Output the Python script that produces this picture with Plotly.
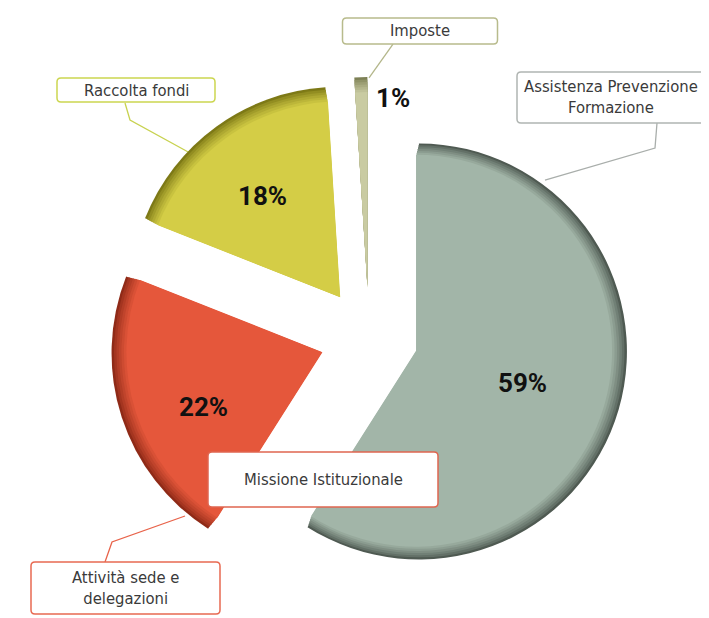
import plotly.graph_objects as go

# ---- data ----
labels = ["Assistenza Prevenzione Formazione", "Attività sede e delegazioni", "Raccolta fondi", "Imposte"]
values = [59, 22, 18, 1]
base_colors = ["#a2b5a8", "#e5573b", "#d4cd46", "#c9cba2"]
rim_colors = ["#4f5a52", "#8f2a17", "#7d7916", "#7d8055"]
pct_text = [f"{v}%" for v in values]

# page body has an 8px margin -> shift everything by that amount
OFF = 8
W, H = 709 - OFF, 618 - OFF
CX, CY = 369, 337
PULL = 0.25


def px(x):
    return (x - OFF) / W


def py(y):
    return (H - (y - OFF)) / H


def domain(r):
    h = r * (1 + PULL)
    return dict(x=[px(CX - h), px(CX + h)], y=[py(CY + h), py(CY - h)])


def mix(c1, c2, t):
    a = [int(c1[i:i + 2], 16) for i in (1, 3, 5)]
    b = [int(c2[i:i + 2], 16) for i in (1, 3, 5)]
    return "#" + "".join(f"{round(a[k] + (b[k] - a[k]) * t):02x}" for k in range(3))


fig = go.Figure()
radii = [208, 206, 204, 202, 200, 198, 196]
n = len(radii)
for j, r in enumerate(radii):
    t = j / (n - 1)
    cols = [mix(rc, bc, t ** 0.8) for rc, bc in zip(rim_colors, base_colors)]
    last = j == n - 1
    fig.add_trace(go.Pie(
        labels=labels,
        values=values,
        sort=False,
        direction="clockwise",
        rotation=0,
        pull=[PULL] * len(values),
        domain=domain(r),
        marker=dict(colors=cols, line=dict(width=0)),
        textinfo="none",
        hoverinfo="label+percent" if last else "skip",
        showlegend=False,
    ))

pct_font = dict(family="Roboto, Noto Sans, sans-serif", size=26, color="#111111", weight="bold")
pct_pos = [(522, 383), (203, 407), (262, 196), (393, 98)]
for s, (x, y) in zip(pct_text, pct_pos):
    fig.add_annotation(
        x=px(x), y=py(y), xref="paper", yref="paper",
        xanchor="center", yanchor="middle",
        text=s, showarrow=False, font=pct_font,
    )

leaders = [
    ([(393, 44), (369, 78)], "#b3b68a"),
    ([(657, 123), (655, 148), (545, 180)], "#a9aeab"),
    ([(125, 103), (130, 120), (190, 153)], "#c8d250"),
    ([(105, 562), (112, 542), (185, 516)], "#e8634a"),
]
for pts, col in leaders:
    path = "M " + " L ".join(f"{px(x):.5f},{py(y):.5f}" for x, y in pts)
    fig.add_shape(type="path", path=path, xref="paper", yref="paper",
                  line=dict(color=col, width=1.3), layer="below")

box_font = dict(family="DejaVu Sans Condensed, Roboto, sans-serif", size=16.5, color="#3a3a3a")

boxes = [
    ("Imposte", 420, 31, 155, 26, "#b8bb8c"),
    ("Assistenza Prevenzione<br>Formazione", 611, 97.5, 188, 51, "#b0b5b2"),
    ("Raccolta fondi", 136, 90, 158, 24, "#ccd650"),
    ("Missione Istituzionale", 323, 479.5, 230, 55, "#e06650"),
    ("Attività sede e<br>delegazioni", 125.5, 588, 189, 52, "#e86a52"),
]


def rounded_rect(x0, y0, x1, y1, rr=4):
    pts = [
        f"M {px(x0 + rr):.5f},{py(y0):.5f}",
        f"L {px(x1 - rr):.5f},{py(y0):.5f}",
        f"Q {px(x1):.5f},{py(y0):.5f} {px(x1):.5f},{py(y0 + rr):.5f}",
        f"L {px(x1):.5f},{py(y1 - rr):.5f}",
        f"Q {px(x1):.5f},{py(y1):.5f} {px(x1 - rr):.5f},{py(y1):.5f}",
        f"L {px(x0 + rr):.5f},{py(y1):.5f}",
        f"Q {px(x0):.5f},{py(y1):.5f} {px(x0):.5f},{py(y1 - rr):.5f}",
        f"L {px(x0):.5f},{py(y0 + rr):.5f}",
        f"Q {px(x0):.5f},{py(y0):.5f} {px(x0 + rr):.5f},{py(y0):.5f} Z",
    ]
    return " ".join(pts)


for text, x, y, w, h, bc in boxes:
    fig.add_shape(type="path", path=rounded_rect(x - w / 2, y - h / 2, x + w / 2, y + h / 2),
                  xref="paper", yref="paper", fillcolor="white",
                  line=dict(color=bc, width=1.5), layer="above")
    fig.add_annotation(
        x=px(x), y=py(y), xref="paper", yref="paper",
        xanchor="center", yanchor="middle",
        text=text, showarrow=False, font=box_font, align="center",
    )

fig.update_layout(
    width=W, height=H,
    margin=dict(l=0, r=0, t=0, b=0),
    paper_bgcolor="white", plot_bgcolor="white",
    showlegend=False,
)

fig.write_html("out.html")
